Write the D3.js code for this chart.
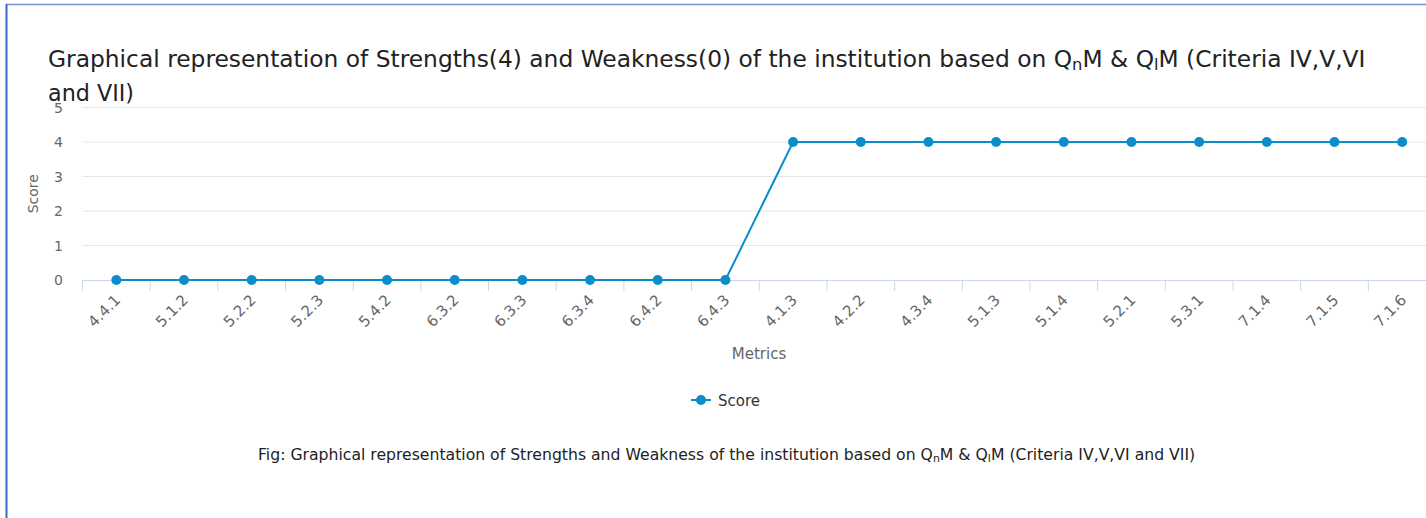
<!DOCTYPE html>
<html>
<head>
<meta charset="utf-8">
<script src="https://cdn.jsdelivr.net/npm/d3@7"></script>
<style>
  html, body { margin: 0; padding: 0; background: #fff; }
  svg { display: block; font-family: "DejaVu Sans", sans-serif; }
</style>
</head>
<body>
<svg id="chart" width="1426" height="518"></svg>
<script>
(function () {
    'use strict';

    // data
    let categories = ['4.4.1', '5.1.2', '5.2.2', '5.2.3', '5.4.2', '6.3.2', '6.3.3', '6.3.4', '6.4.2', '6.4.3',
        '4.1.3', '4.2.2', '4.3.4', '5.1.3', '5.1.4', '5.2.1', '5.3.1', '7.1.4', '7.1.5', '7.1.6'];
    let scores = [0, 0, 0, 0, 0, 0, 0, 0, 0, 0, 4, 4, 4, 4, 4, 4, 4, 4, 4, 4];
    let yTicks = [0, 1, 2, 3, 4, 5];
    let seriesName = 'Score';

    let lineColor = '#0b8dc9';
    let width = 1426, height = 518;
    let plotLeft = 82.5, plotRight = 1436, plotTop = 107.5, plotBottom = 280;

    let svg = d3.select('#chart');

    // frame (only top and left edges show in the shot)
    svg.append('line')
        .attr('x1', 6).attr('x2', width).attr('y1', 4.5).attr('y2', 4.5)
        .style('stroke', '#7592d2').style('stroke-width', 1.5);
    svg.append('line')
        .attr('x1', 6.5).attr('x2', 6.5).attr('y1', 4).attr('y2', height)
        .style('stroke', '#3a68cf').style('stroke-width', 2);

    let x = d3.scaleBand()
        .domain(categories)
        .range([plotLeft, plotRight])
        .paddingInner(0).paddingOuter(0);
    let y = d3.scaleLinear()
        .domain([0, 5])
        .range([plotBottom, plotTop]);

    function cx(d) { return x(d) + x.bandwidth() / 2; }

    // grid
    svg.append('g')
        .selectAll('line')
        .data(yTicks.filter(function (t) { return t > 0; }))
        .enter()
        .append('line')
        .attr('x1', plotLeft).attr('x2', plotRight)
        .attr('y1', function (d) { return y(d); })
        .attr('y2', function (d) { return y(d); })
        .style('stroke', '#e6e6e6').style('stroke-width', 1);

    // y axis labels
    let yAxis = d3.axisLeft(y).tickValues(yTicks).tickFormat(d3.format('d')).tickSize(0).tickPadding(0);
    let yg = svg.append('g')
        .attr('transform', 'translate(63,0)')
        .call(yAxis);
    yg.select('.domain').remove();
    yg.selectAll('text')
        .attr('dy', '0.35em')
        .style('font-size', '14px')
        .style('font-family', '"DejaVu Sans", sans-serif')
        .style('fill', '#666666');

    svg.append('text')
        .attr('transform', 'translate(38,' + (y(2.5)) + ') rotate(-90)')
        .attr('text-anchor', 'middle')
        .style('font-size', '14px')
        .style('fill', '#666666')
        .text('Score');

    // x axis line and ticks on band edges
    svg.append('line')
        .attr('x1', plotLeft).attr('x2', plotRight)
        .attr('y1', plotBottom + 0.5).attr('y2', plotBottom + 0.5)
        .style('stroke', '#ccd6eb');
    svg.append('g')
        .selectAll('line')
        .data(categories)
        .enter()
        .append('line')
        .attr('x1', function (d) { return x(d); })
        .attr('x2', function (d) { return x(d); })
        .attr('y1', plotBottom).attr('y2', plotBottom + 11)
        .style('stroke', '#ccd6eb');

    let xAxis = d3.axisBottom(x).tickSize(0).tickPadding(0);
    let xg = svg.append('g')
        .attr('transform', 'translate(0,' + plotBottom + ')')
        .call(xAxis);
    xg.select('.domain').remove();
    xg.selectAll('text')
        .attr('text-anchor', 'end')
        .attr('dy', null)
        .attr('transform', 'translate(5,21) rotate(-45)')
        .style('font-size', '15px')
        .style('font-family', '"DejaVu Sans", sans-serif')
        .style('fill', '#666666');

    svg.append('text')
        .attr('x', 759).attr('y', 359)
        .attr('text-anchor', 'middle')
        .style('font-size', '15px')
        .style('fill', '#666666')
        .text('Metrics');

    // series
    let line = d3.line()
        .x(function (d, i) { return cx(categories[i]); })
        .y(function (d) { return y(d); });
    svg.append('path')
        .datum(scores)
        .attr('d', line)
        .style('fill', 'none')
        .style('stroke', lineColor)
        .style('stroke-width', 2);
    svg.append('g')
        .selectAll('circle')
        .data(scores)
        .enter()
        .append('circle')
        .attr('cx', function (d, i) { return cx(categories[i]); })
        .attr('cy', function (d) { return y(d); })
        .attr('r', 5)
        .style('fill', lineColor);

    // legend
    let legend = svg.append('g').attr('transform', 'translate(691,400)');
    legend.append('line')
        .attr('x1', 0).attr('x2', 20).attr('y1', 0).attr('y2', 0)
        .style('stroke', lineColor).style('stroke-width', 2);
    legend.append('circle')
        .attr('cx', 10).attr('cy', 0).attr('r', 5)
        .style('fill', lineColor);
    legend.append('text')
        .attr('x', 27).attr('y', 5.5)
        .style('font-size', '15px')
        .style('fill', '#333333')
        .text(seriesName);

    // text with Q-subscripts, fitted to a width
    function richText(parent, parts, px, py, size, color, target) {
        let t = parent.append('text')
            .attr('x', px).attr('y', py)
            .style('font-size', size + 'px')
            .style('fill', color);
        parts.forEach(function (p) {
            let s = t.append('tspan').text(p[0]);
            if (p[1]) {
                s.attr('baseline-shift', '-20%').style('font-size', (size * 0.7) + 'px');
            }
        });
        if (target) {
            let k = target / t.node().getComputedTextLength();
            t.style('font-size', (size * k) + 'px');
            t.selectAll('tspan').each(function () {
                if (this.style.fontSize) {
                    d3.select(this).style('font-size', (parseFloat(this.style.fontSize) * k) + 'px');
                }
            });
        }
        return t;
    }

    richText(svg, [
        ['Graphical representation of Strengths(4) and Weakness(0) of the institution based on Q'],
        ['n', true], ['M & Q'], ['l', true], ['M (Criteria IV,V,VI']
    ], 48, 67, 22, '#222222', 1318);
    richText(svg, [['and VII)']], 48, 101, 22, '#222222', 86);

    richText(svg, [
        ['Fig: Graphical representation of Strengths and Weakness of the institution based on Q'],
        ['n', true], ['M & Q'], ['l', true], ['M (Criteria IV,V,VI and VII)']
    ], 258, 460, 13, '#222222', 938);
})();
</script>
</body>
</html>
